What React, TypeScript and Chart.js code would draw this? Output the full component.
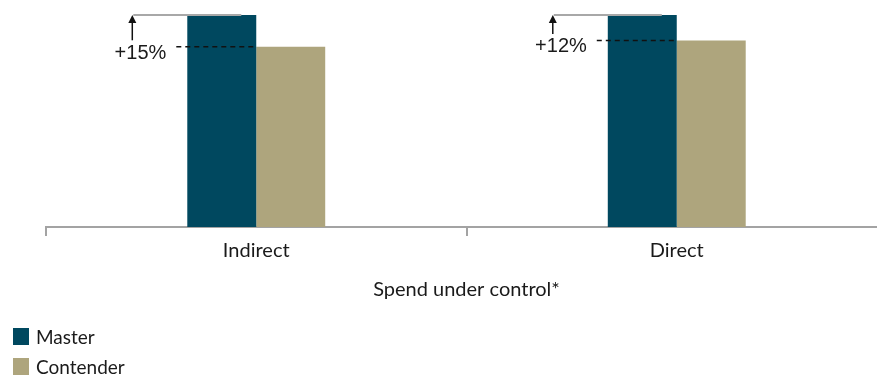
import React, { useEffect, useRef } from "react";
import { Chart, registerables, Plugin } from "chart.js";

Chart.register(...registerables);

// Spend under control, indexed to the Master group (= 100)
const categories = ["Indirect", "Direct"];
const masterValues = [100, 100];
const contenderValues = [85, 88];
const seriesNames = ["Master", "Contender"];
const axisTitle = "Spend under control*";

const MASTER_COLOR = "#00485f";
const CONTENDER_COLOR = "#aea57d";
const AXIS_FONT = "Lato, 'Liberation Sans', sans-serif";
const NOTE_FONT = "'Liberation Sans', Arial, sans-serif";

// Draws the gap markers: reference line at the Master level, dashed line at
// the Contender level, an arrow between them and the percentage gap.
const gapMarkers: Plugin<"bar"> = {
  id: "gapMarkers",
  afterDatasetsDraw(chart) {
    const { ctx } = chart;
    const y = chart.scales.y;
    const masterMeta = chart.getDatasetMeta(0);
    categories.forEach((_, i) => {
      const bar: any = masterMeta.data[i];
      if (!bar) return;
      const left = bar.x - bar.width / 2;
      const right = bar.x + bar.width / 2;
      const topY = y.getPixelForValue(masterValues[i]);
      const cY = y.getPixelForValue(contenderValues[i]);
      const gap = Math.round(((masterValues[i] - contenderValues[i]) / masterValues[i]) * 100);
      const arrowX = left - 55;
      const labelY = cY + 6.5;

      ctx.save();
      // reference line at the Master level
      ctx.strokeStyle = "#a8a8a8";
      ctx.lineWidth = 2;
      ctx.beginPath();
      ctx.moveTo(left - 54, topY);
      ctx.lineTo(left + 54, topY);
      ctx.stroke();

      // dashed line at the Contender level
      ctx.strokeStyle = "#111";
      ctx.lineWidth = 1.5;
      ctx.setLineDash([5, 4]);
      ctx.beginPath();
      ctx.moveTo(left - 11, cY);
      ctx.lineTo(right, cY);
      ctx.stroke();
      ctx.setLineDash([]);

      // arrow
      ctx.lineWidth = 1.5;
      ctx.beginPath();
      ctx.moveTo(arrowX, labelY - 13);
      ctx.lineTo(arrowX, topY + 6);
      ctx.stroke();
      ctx.fillStyle = "#111";
      ctx.beginPath();
      ctx.moveTo(arrowX, topY);
      ctx.lineTo(arrowX - 4, topY + 8);
      ctx.lineTo(arrowX + 4, topY + 8);
      ctx.closePath();
      ctx.fill();

      // percentage label
      ctx.fillStyle = "#1a1a1a";
      ctx.font = `20px ${NOTE_FONT}`;
      ctx.textAlign = "right";
      ctx.textBaseline = "middle";
      ctx.fillText(`+${gap}%`, left - 21, labelY);
      ctx.restore();
    });
  },
};

export default function App() {
  const canvasRef = useRef<HTMLCanvasElement | null>(null);

  useEffect(() => {
    document.body.style.margin = "0";
    const canvas = canvasRef.current;
    if (!canvas) return;
    const chart = new Chart(canvas, {
      type: "bar",
      data: {
        labels: categories,
        datasets: [
          {
            label: seriesNames[0],
            data: masterValues,
            backgroundColor: MASTER_COLOR,
            barPercentage: 1,
            categoryPercentage: 0.328,
          },
          {
            label: seriesNames[1],
            data: contenderValues,
            backgroundColor: CONTENDER_COLOR,
            barPercentage: 1,
            categoryPercentage: 0.328,
          },
        ],
      },
      options: {
        responsive: false,
        animation: false,
        devicePixelRatio: 1,
        layout: { padding: { left: 46, right: 0, top: 15, bottom: 75 } },
        plugins: {
          legend: { display: false },
          tooltip: { enabled: false },
        },
        scales: {
          x: {
            grid: {
              display: true,
              drawOnChartArea: false,
              drawTicks: true,
              tickLength: 9,
              color: "#a3a3a3",
              lineWidth: 2,
            },
            border: { display: true, color: "#a3a3a3", width: 2 },
            ticks: {
              padding: 3,
              color: "#1a1a1a",
              font: { family: AXIS_FONT, size: 20 },
            },
            title: {
              display: true,
              text: axisTitle,
              color: "#1a1a1a",
              font: { family: AXIS_FONT, size: 20 },
              padding: { top: 12, bottom: 0 },
            },
          },
          y: {
            display: false,
            min: 0,
            max: 100,
          },
        },
      },
      plugins: [gapMarkers],
    });
    return () => chart.destroy();
  }, []);

  const legendItem = (name: string, color: string, top: number) => (
    <div
      key={name}
      style={{
        position: "absolute",
        left: 13,
        top,
        display: "flex",
        alignItems: "center",
        fontFamily: AXIS_FONT,
        fontSize: 19,
        color: "#1a1a1a",
        lineHeight: "17px",
      }}
    >
      <span style={{ display: "inline-block", width: 16, height: 17, background: color, marginRight: 7 }} />
      <span>{name}</span>
    </div>
  );

  return (
    <div style={{ position: "relative", width: 877, height: 377, overflow: "hidden", background: "#fff" }}>
      <canvas ref={canvasRef} width={887} height={377} style={{ display: "block" }} />
      {legendItem(seriesNames[0], MASTER_COLOR, 328)}
      {legendItem(seriesNames[1], CONTENDER_COLOR, 358)}
    </div>
  );
}
